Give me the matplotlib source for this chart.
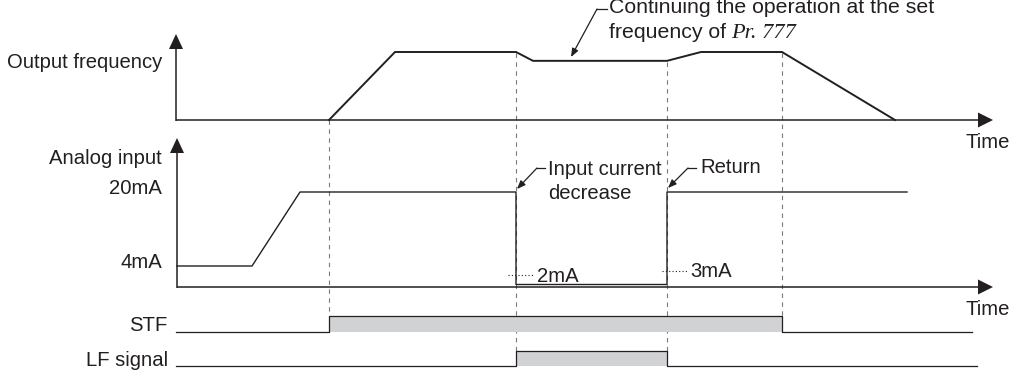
import matplotlib
matplotlib.use("Agg")
import matplotlib.pyplot as plt
from matplotlib.patches import Polygon

plt.rcParams["font.family"] = ["Liberation Sans", "DejaVu Sans"]

# ---------------- data (time positions along the chart) ----------------
t_stf_on = 329      # start signal on
t_lf_on = 516       # input current decrease -> LF signal on
t_lf_off = 667      # return -> LF signal off
t_stf_off = 782     # start signal off

freq_t = [329, 395, 516, 533, 667, 701, 782, 895]
freq_v = [0, 1, 1, 0.87, 0.87, 1, 1, 0]          # relative output frequency

analog_t = [177, 252, 300, 516, 516, 667, 667, 907]
analog_mA = [4, 4, 20, 20, 0, 0, 20, 20]
analog_ticks = [20, 4]
analog_tick_labels = ["20mA", "4mA"]
detect_mA = 2
return_mA = 3

stf_t = [176, 329, 329, 782, 782, 972]
stf_v = [0, 0, 1, 1, 0, 0]
lf_t = [176, 516, 516, 667, 667, 977]
lf_v = [0, 0, 1, 1, 0, 0]

INK = "#231f20"
GRID = "#7a7a7a"
FILL = "#d1d2d4"
FS = 14.6
FS_TOP = 15.3

W, H = 1014, 370
fig = plt.figure(figsize=(W / 100, H / 100), dpi=100)

canvas = fig.add_axes([0, 0, 1, 1])
canvas.set_xlim(0, W)
canvas.set_ylim(H, 0)
canvas.axis("off")


def panel(px0, ppu):
    ax = fig.add_axes([0, 0, 1, 1])
    ax.set_xlim(0, W)
    ax.set_ylim((px0 - H) / ppu, px0 / ppu)
    ax.axis("off")
    ax.patch.set_alpha(0)
    return ax


ax_f = panel(120, 68)
ax_a = panel(284.5, 4.625)
ax_s = panel(332, 16)
ax_l = panel(366, 15)

# ---------------- guide dashed lines ----------------
guides = [(t_stf_on, 120, 316), (t_lf_on, 53, 351), (t_lf_off, 62, 351), (t_stf_off, 53, 316)]
for gx, y0, y1 in guides:
    canvas.plot([gx, gx], [y0, y1], color=GRID, lw=0.8, ls=(0, (4, 4)), zorder=1)


# ---------------- axes with arrows ----------------
def h_axis(y, x0, tip):
    canvas.plot([x0, tip - 12], [y, y], color=INK, lw=1.1, zorder=3, solid_capstyle="butt")
    canvas.add_patch(Polygon([(tip - 15, y - 7.5), (tip, y), (tip - 15, y + 7.5)],
                             closed=True, color=INK, lw=0, zorder=3))


def v_axis(x, y0, tip):
    canvas.plot([x, x], [y0, tip + 12], color=INK, lw=1.1, zorder=3, solid_capstyle="butt")
    canvas.add_patch(Polygon([(x - 7, tip + 15), (x, tip), (x + 7, tip + 15)],
                             closed=True, color=INK, lw=0, zorder=3))


v_axis(176, 120.5, 34)
h_axis(120, 176, 993)
v_axis(177, 287.5, 138)
h_axis(287, 177, 993)

# ---------------- signals ----------------
ax_f.plot(freq_t, freq_v, color=INK, lw=1.4, zorder=4, solid_joinstyle="miter")
ax_a.plot(analog_t, analog_mA, color=INK, lw=1.0, zorder=4)
ax_a.plot([508, 533], [detect_mA, detect_mA], color=INK, lw=0.8, ls=(0, (1, 2)))
ax_a.plot([662, 687], [return_mA, return_mA], color=INK, lw=0.8, ls=(0, (1, 2)))

ax_s.fill_between([t_stf_on, t_stf_off], 0, 1, color=FILL, lw=0, zorder=2)
ax_s.plot(stf_t, stf_v, color=INK, lw=0.9, zorder=4)
ax_l.fill_between([t_lf_on, t_lf_off], 0, 1, color=FILL, lw=0, zorder=2)
ax_l.plot(lf_t, lf_v, color=INK, lw=0.9, zorder=4)

# ---------------- labels ----------------
def txt(x, y, s, ha="left", fs=FS, **kw):
    return canvas.text(x, y, s, ha=ha, va="baseline", fontsize=fs, color=INK, **kw)


txt(162, 68, "Output frequency", ha="right")
txt(162, 164, "Analog input", ha="right")
for v, lab in zip(analog_ticks, analog_tick_labels):
    ypx = 284.5 - 4.625 * v
    txt(162, ypx + 2, lab, ha="right")
txt(966, 148, "Time")
txt(966, 315, "Time")
txt(167, 331, "STF", ha="right")
txt(168, 366, "LF signal", ha="right")
txt(537, 282, "2mA")
txt(690, 277, "3mA")
txt(548, 175, "Input current")
txt(548, 199, "decrease")
txt(700, 173, "Return")
txt(609, 13, "Continuing the operation at the set", fs=FS_TOP)
t_freq = txt(609, 37.5, "frequency of", fs=FS_TOP)
renderer = fig.canvas.get_renderer()
ext = t_freq.get_window_extent(renderer)
x_pr = 609 + ext.width + 5
txt(x_pr, 37.5, "Pr. 777", fs=FS_TOP + 0.8, family="Liberation Serif", style="italic")


# ---------------- leader arrows ----------------
def leader(hook_x0, hook_x1, hy, tip):
    canvas.plot([hook_x0, hook_x1], [hy, hy], color=INK, lw=0.9)
    canvas.annotate("", xy=tip, xytext=(hook_x1, hy),
                    arrowprops=dict(arrowstyle="-|>,head_length=0.5,head_width=0.2",
                                    color=INK, lw=0.9, shrinkA=0, shrinkB=0))


leader(607, 597, 9, (571, 57))
leader(545, 537, 168, (517, 189))
leader(696, 688, 168, (668, 188))

fig.savefig("out.png", dpi=100)
